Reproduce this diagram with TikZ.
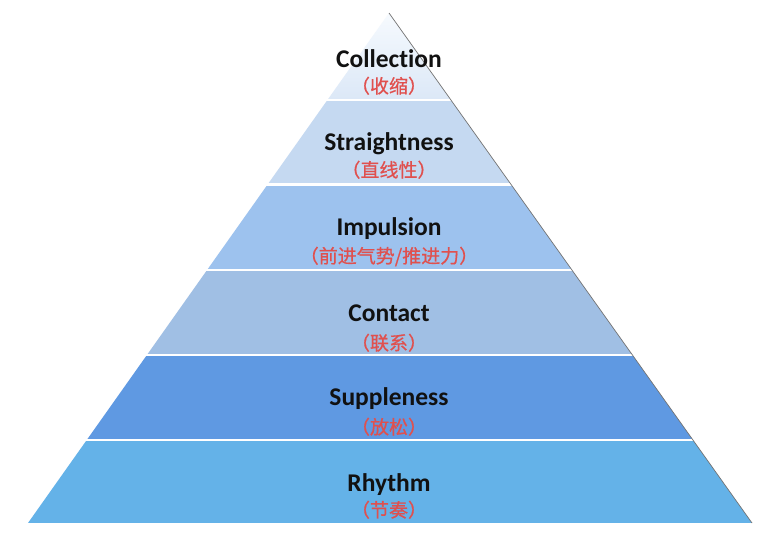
\documentclass[tikz,border=0pt]{standalone}
\usepackage{fontspec}
\setmainfont{Carlito}[RawFeature={-liga;-calt}]
\newfontfamily\cjk{Noto Sans CJK SC}[RawFeature={+halt}, FakeBold=0.6]
\definecolor{colTop}{HTML}{F6FAFE}
\definecolor{colBot}{HTML}{DCE8F7}
\definecolor{cStr}{HTML}{C5D9F1}
\definecolor{cImp}{HTML}{9DC2EE}
\definecolor{cCon}{HTML}{A0BFE4}
\definecolor{cSup}{HTML}{5F99E2}
\definecolor{cRhy}{HTML}{64B2E8}
\definecolor{cnred}{HTML}{E0504E}
\definecolor{entxt}{HTML}{111111}
\tikzset{
  en/.style={font=\bfseries\fontsize{25.5}{30}\selectfont, text=entxt, inner sep=0pt, anchor=base},
  cn/.style={font=\cjk\fontsize{19}{22}\selectfont, text=cnred, inner sep=0pt, anchor=base},
  edgeline/.style={draw=black!55, line width=0.7pt}
}
\begin{document}
\begin{tikzpicture}[x=1pt,y=-1pt]
\useasboundingbox (0,0) rectangle (777,535);
\fill[white] (0,0) rectangle (777,535);
\coordinate (apex) at (389,13);
\coordinate (bl) at (28,523);
\coordinate (br) at (752,523);
\begin{scope}
  \clip (apex) -- (br) -- (bl) -- cycle;
  \shade[top color=colTop, bottom color=colBot] (0,13) rectangle (777,98.5);
  \fill[cStr] (0,101.5) rectangle (777,183);
  \fill[cImp] (0,186) rectangle (777,268.5);
  \fill[cCon] (0,271) rectangle (777,353.5);
  \fill[cSup] (0,356) rectangle (777,438.5);
  \fill[cRhy] (0,441) rectangle (777,523);
\end{scope}
\draw[edgeline, xshift=1pt] (apex) -- (br);
\node[en] (collection) at (389,67) {Collec\kern0pt tion};
\node[cn] (collectioncn) at (389,93) {（收缩）};
\node[en] (straightness) at (389,150) {Straightness};
\node[cn] (straightnesscn) at (389,177) {（直线性）};
\node[en] (impulsion) at (389,235) {Impulsion};
\node[cn] (impulsioncn) at (389,263) {（前进气势/推进力）};
\node[en] (contact) at (389,321) {Contact};
\node[cn] (contactcn) at (389,350) {（联系）};
\node[en] (suppleness) at (389,405) {Suppleness};
\node[cn] (supplenesscn) at (389,434) {（放松）};
\node[en] (rhythm) at (389,491) {Rhythm};
\node[cn] (rhythmcn) at (389,517) {（节奏）};
\end{tikzpicture}
\end{document}
